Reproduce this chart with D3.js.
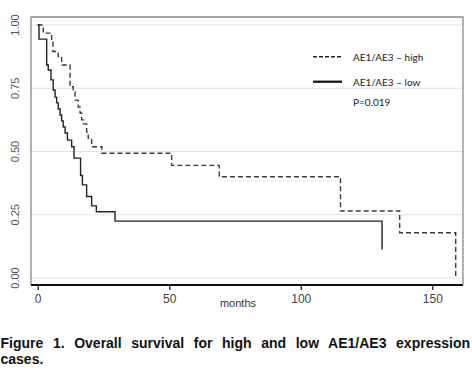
<!DOCTYPE html>
<html><head><meta charset="utf-8">
<script src="https://cdn.jsdelivr.net/npm/d3@7"></script>
<style>
body{margin:0;background:#fff;}
svg{display:block;}
</style></head>
<body>
<svg id="chart" width="472" height="392"></svg>
<script>
// ---- data ----
const xTicks = [0, 50, 100, 150];
const yTicks = [0, 0.25, 0.5, 0.75, 1.0];
const yTickLabels = ["0.00", "0.25", "0.50", "0.75", "1.00"];

const highTimes = [0, 2.1, 5.3, 5.8, 7.8, 9.1, 12.3, 13.5, 14.2, 15.4, 16.1, 16.7, 17.3, 18.6, 19.2, 20.5, 24.4, 50.9, 69.0, 115.1, 137.6, 158.9];
const highSurv  = [1, 0.968, 0.94, 0.895, 0.87, 0.842, 0.756, 0.735, 0.703, 0.676, 0.652, 0.625, 0.609, 0.577, 0.553, 0.519, 0.493, 0.445, 0.400, 0.265, 0.179, 0];

const lowTimes = [0, 0.5, 3.4, 4.0, 5.05, 5.9, 6.6, 7.2, 7.8, 8.5, 9.1, 9.7, 10.4, 11.3, 12.9, 13.8, 16.3, 17.0, 18.6, 20.5, 22.3, 29.4, 130.9];
const lowSurv  = [1, 0.944, 0.842, 0.822, 0.783, 0.743, 0.715, 0.692, 0.668, 0.644, 0.621, 0.597, 0.573, 0.545, 0.519, 0.474, 0.405, 0.368, 0.322, 0.285, 0.262, 0.225, 0.113];

const legendLabels = ["AE1/AE3 \u2013 high", "AE1/AE3 \u2013 low"];
const pValueText = "P=0.019";
const xTitle = "months";
const captionLines = ["Figure 1. Overall survival for high and low AE1/AE3 expression", "cases."];

// ---- layout ----
const svg = d3.select("#chart");
const frame = {left: 31, right: 463, top: 17, bottom: 285};
const x = d3.scaleLinear().domain([0, 150]).range([37.7, 432.3]);
const y = d3.scaleLinear().domain([0, 1]).range([278, 25]);

// gridlines
svg.append("g").selectAll("line").data(yTicks).join("line")
  .attr("x1", frame.left).attr("x2", frame.right)
  .attr("y1", d => y(d)).attr("y2", d => y(d))
  .attr("stroke", "#e2e2e2").attr("stroke-width", 1);

// frame (top/left/right grey)
svg.append("path")
  .attr("d", `M${frame.left},${frame.bottom} V${frame.top} H${frame.right} V${frame.bottom}`)
  .attr("fill", "none").attr("stroke", "#8a8a8a").attr("stroke-width", 1.3);

// y labels (rotated)
svg.append("g").selectAll("text").data(yTicks).join("text")
  .attr("transform", d => `translate(15,${y(d)}) rotate(-90)`)
  .attr("text-anchor", "middle").attr("dominant-baseline", "central")
  .attr("font-family", "Liberation Sans, Arial, sans-serif").attr("font-size", 11)
  .attr("fill", "#555")
  .text((d, i) => yTickLabels[i]);

// curves
const line = d3.line().x(d => x(d[0])).y(d => y(d[1])).curve(d3.curveStepAfter);
const highData = highTimes.map((t, i) => [t, highSurv[i]]);
const lowData = lowTimes.map((t, i) => [t, lowSurv[i]]);

svg.append("path").datum(highData).attr("d", line)
  .attr("fill", "none").attr("stroke", "#3a3a3a").attr("stroke-width", 1.4)
  .attr("stroke-dasharray", "5,3");
svg.append("path").datum(lowData).attr("d", line)
  .attr("fill", "none").attr("stroke", "#222").attr("stroke-width", 1.4);

// x axis
svg.append("line").attr("x1", frame.left).attr("x2", frame.right)
  .attr("y1", frame.bottom).attr("y2", frame.bottom)
  .attr("stroke", "#111").attr("stroke-width", 2);
const xAxis = svg.append("g").attr("transform", `translate(0,${frame.bottom})`)
  .call(d3.axisBottom(x).tickValues(xTicks).tickSize(5).tickPadding(4).tickFormat(d3.format("d")));
xAxis.select(".domain").remove();
xAxis.selectAll(".tick line").attr("stroke", "#111").attr("stroke-width", 1.2);
xAxis.selectAll(".tick text").attr("font-family", "Liberation Sans, Arial, sans-serif")
  .attr("font-size", 12).attr("fill", "#444");

svg.append("text").attr("x", 238).attr("y", 303).attr("text-anchor", "middle")
  .attr("dominant-baseline", "central")
  .attr("font-family", "Liberation Sans, Arial, sans-serif").attr("font-size", 11)
  .attr("fill", "#333").text(xTitle);

// legend
const lg = svg.append("g").attr("font-family", "Lato, 'Open Sans', sans-serif").attr("font-size", 10).attr("fill", "#222");
lg.append("line").attr("x1", 313).attr("x2", 342).attr("y1", 56.7).attr("y2", 56.7)
  .attr("stroke", "#222").attr("stroke-width", 1.4).attr("stroke-dasharray", "4,2");
lg.append("line").attr("x1", 313).attr("x2", 342).attr("y1", 81.7).attr("y2", 81.7)
  .attr("stroke", "#111").attr("stroke-width", 2.2);
lg.append("text").attr("x", 353).attr("y", 56.7).attr("dominant-baseline", "central").text(legendLabels[0]);
lg.append("text").attr("x", 353).attr("y", 81.7).attr("dominant-baseline", "central").text(legendLabels[1]);
lg.append("text").attr("x", 353).attr("y", 101.7).attr("dominant-baseline", "central").text(pValueText);

// caption
const capFont = "'Liberation Sans', Arial, sans-serif";
const spaces = captionLines[0].split(" ").length - 1;
const c1 = svg.append("text").attr("x", 0.5).attr("y", 347.5)
  .attr("font-family", capFont).attr("font-weight", "bold").attr("font-size", 14)
  .attr("fill", "#111").text(captionLines[0]);
let w = c1.node().getComputedTextLength();
let fs = 14;
if (w + spaces * 2 > 469.5) { fs = 14 * 469.5 / (w + spaces * 2); c1.attr("font-size", fs); w = c1.node().getComputedTextLength(); }
c1.attr("word-spacing", (469.5 - w) / spaces);
svg.append("text").attr("x", 0.5).attr("y", 363.5)
  .attr("font-family", capFont).attr("font-weight", "bold").attr("font-size", fs)
  .attr("fill", "#111").text(captionLines[1]);
</script>
</body></html>
